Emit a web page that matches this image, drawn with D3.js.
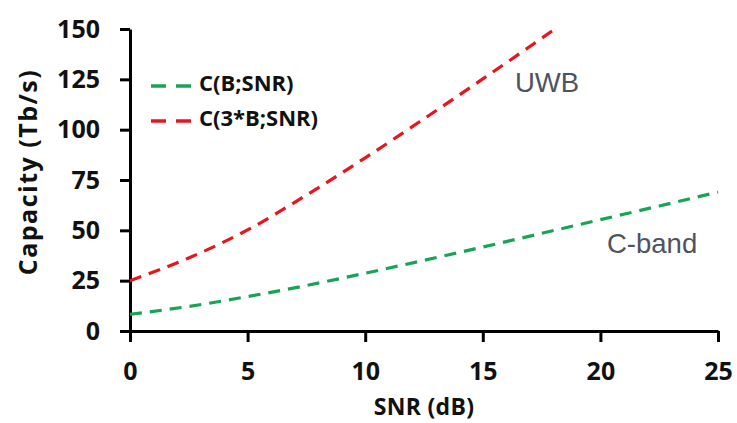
<!DOCTYPE html>
<html><head><meta charset="utf-8">
<script src="https://cdn.jsdelivr.net/npm/d3@7"></script>
<style>body{margin:0;background:#fff}svg{display:block}</style>
</head><body>
<svg id="chart" width="737" height="423"></svg>
<script>
// Data
const snrC = [0, 2.5, 5, 7.5, 10, 12.5, 15, 17.5, 20, 22.5, 25];
const capC = [8.3, 12.2, 17.1, 22.6, 28.7, 35.1, 41.7, 48.5, 55.3, 62.1, 69.0];
const snrU = [0, 2.5, 5, 7.5, 10, 12.5, 15, 17.5, 18];
const capU = [25, 36.3, 50.2, 67.5, 86.0, 105.4, 125.2, 145.4, 149.5];
const xTicks = [0, 5, 10, 15, 20, 25];
const yTicks = [0, 25, 50, 75, 100, 125, 150];
const legendLabels = ["C(B;SNR)", "C(3*B;SNR)"];
const seriesColors = ["#17a455", "#e8141e"];

const svg = d3.select("#chart");
const m = {l:130, r:19, t:29, b:92};
const W = 737, H = 423;
const x = d3.scaleLinear().domain([0,25]).range([m.l, W - m.r]);
const y = d3.scaleLinear().domain([0,150]).range([H - m.b, m.t]);
const tickFont = "'Open Sans', sans-serif";

const xa = svg.append("g").attr("transform", `translate(0,${y(0)})`)
  .call(d3.axisBottom(x).tickValues(xTicks).tickSize(11).tickPadding(20).tickSizeOuter(0));
const ya = svg.append("g").attr("transform", `translate(${x(0)},0)`)
  .call(d3.axisLeft(y).tickValues(yTicks).tickSize(10).tickPadding(20).tickSizeOuter(0));
[xa, ya].forEach(a => {
  a.select(".domain").attr("stroke", "#000").attr("stroke-width", 3);
  a.selectAll(".tick line").attr("stroke", "#000").attr("stroke-width", 3);
  a.selectAll("text").attr("fill", "#111").style("font-family", tickFont)
    .style("font-size", "25px").style("font-weight", "700");
});

svg.append("text").attr("x", x(12.5)).attr("y", 415).attr("text-anchor", "middle")
  .style("font-family", tickFont).style("font-size", "23px").style("font-weight", "700")
  .style("letter-spacing", "0.3px")
  .attr("fill", "#111").text("SNR (dB)");
svg.append("text").attr("transform", `translate(37,${(y(0)+y(150))/2 - 8}) rotate(-90)`)
  .attr("text-anchor", "middle")
  .style("font-family", tickFont).style("font-size", "25px").style("font-weight", "700")
  .style("letter-spacing", "1.5px")
  .attr("fill", "#111").text("Capacity (Tb/s)");

const line = d3.line().x(d => x(d[0])).y(d => y(d[1])).curve(d3.curveMonotoneX);
const series = [d3.zip(snrC, capC), d3.zip(snrU, capU)];
series.forEach((s, i) => {
  svg.append("path").datum(s).attr("d", line).attr("fill", "none")
    .attr("stroke", seriesColors[i]).attr("stroke-width", 3.2)
    .attr("stroke-dasharray", "12,8");
});

// legend
legendLabels.forEach((t, i) => {
  const ly = 86 + i * 35;
  svg.append("line").attr("x1", 151).attr("x2", 192).attr("y1", ly).attr("y2", ly)
    .attr("stroke", seriesColors[i]).attr("stroke-width", 3.5).attr("stroke-dasharray", "15,10");
  svg.append("text").attr("x", 199).attr("y", ly + 5)
    .style("font-family", tickFont).style("font-size", "22px").style("font-weight", "700")
    .attr("fill", "#111").text(t);
});

svg.append("text").attr("x", 515).attr("y", 92)
  .style("font-family", "'Liberation Sans', Arial, sans-serif").style("font-size", "27.5px")
  .attr("fill", "#4f5361").text("UWB");
svg.append("text").attr("x", 607).attr("y", 253)
  .style("font-family", "'Liberation Sans', Arial, sans-serif").style("font-size", "27.5px")
  .attr("fill", "#4f5361").text("C-band");
</script>
</body></html>
